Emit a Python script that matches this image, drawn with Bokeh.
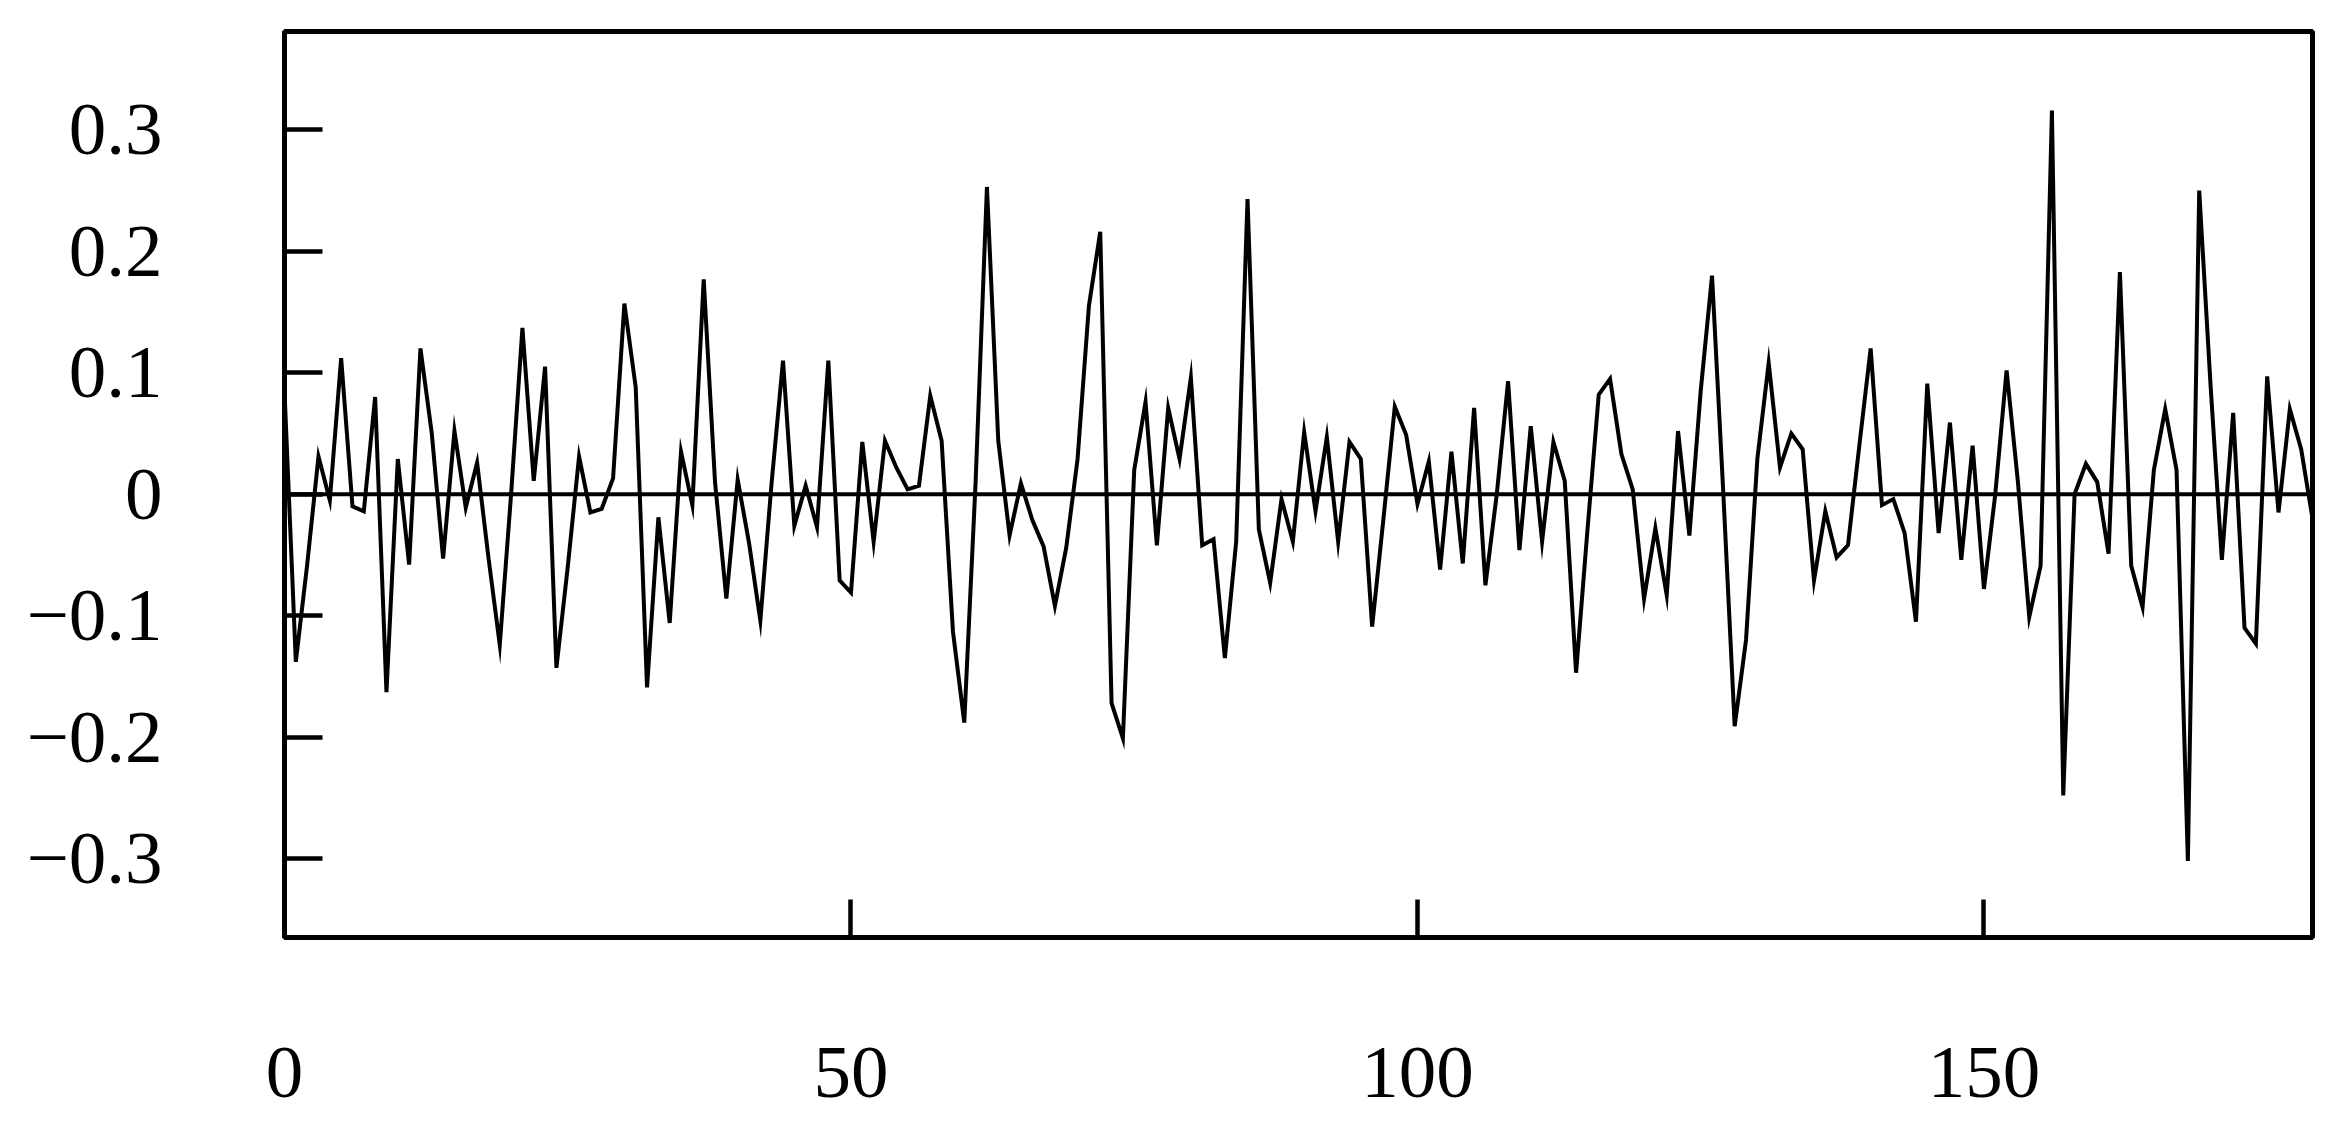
from bokeh.plotting import figure
from bokeh.models import Span, FixedTicker, CustomJSTickFormatter, Range1d
from bokeh.embed import file_html
from bokeh.resources import INLINE

# x positions 0..179
x_values = list(range(180))

y_values = [
    0.085, -0.138, -0.058, 0.031, -0.005, 0.112, -0.010, -0.014, 0.080, -0.163,
    0.029, -0.058, 0.120, 0.050, -0.053, 0.052, -0.011, 0.026, -0.052, -0.124,
    0.000, 0.137, 0.011, 0.105, -0.143, -0.060, 0.031, -0.015, -0.012, 0.013,
    0.157, 0.088, -0.159, -0.019, -0.106, 0.035, -0.009, 0.177, 0.010, -0.086,
    0.012, -0.040, -0.104, 0.010, 0.110, -0.026, 0.007, -0.027, 0.110, -0.071,
    -0.081, 0.043, -0.039, 0.044, 0.022, 0.004, 0.007, 0.081, 0.044, -0.113,
    -0.188, 0.010, 0.253, 0.044, -0.034, 0.009, -0.021, -0.043, -0.092, -0.044,
    0.029, 0.155, 0.216, -0.172, -0.201, 0.020, 0.076, -0.042, 0.071, 0.029,
    0.096, -0.042, -0.037, -0.135, -0.039, 0.243, -0.029, -0.073, -0.004, -0.039,
    0.051, -0.014, 0.047, -0.039, 0.043, 0.029, -0.109, -0.020, 0.072, 0.049,
    -0.008, 0.027, -0.062, 0.035, -0.057, 0.071, -0.075, 0.000, 0.093, -0.046,
    0.056, -0.039, 0.043, 0.011, -0.147, -0.030, 0.082, 0.095, 0.033, 0.004,
    -0.086, -0.028, -0.083, 0.052, -0.034, 0.085, 0.180, 0.000, -0.191, -0.120,
    0.029, 0.108, 0.022, 0.050, 0.037, -0.071, -0.014, -0.052, -0.042, 0.040,
    0.120, -0.009, -0.004, -0.032, -0.105, 0.091, -0.032, 0.059, -0.054, 0.040,
    -0.078, 0.000, 0.102, 0.010, -0.101, -0.059, 0.316, -0.248, 0.000, 0.025,
    0.010, -0.049, 0.183, -0.059, -0.093, 0.020, 0.070, 0.020, -0.302, 0.250,
    0.090, -0.054, 0.067, -0.110, -0.123, 0.097, -0.015, 0.070, 0.037, -0.020,
]

x_ticks = [0, 50, 100, 150]
y_ticks = [-0.3, -0.2, -0.1, 0, 0.1, 0.2, 0.3]

FONT = "Liberation Serif"

p = figure(
    width=2327, height=1112,
    output_backend="svg", toolbar_location=None,
    x_range=Range1d(0, 179), y_range=Range1d(-0.365, 0.381),
    min_border_left=284, min_border_right=15,
    min_border_top=31, min_border_bottom=175,
)
p.background_fill_color = "white"
p.border_fill_color = "white"
p.grid.visible = False
p.outline_line_color = "black"
p.outline_line_width = 5

p.add_layout(Span(location=0, dimension="width", line_color="black", line_width=4))
p.line(x_values, y_values, line_color="black", line_width=4, line_join="miter")

for ax in (p.xaxis[0], p.yaxis[0]):
    ax.axis_line_color = "black"
    ax.axis_line_width = 5
    ax.major_tick_in = 38
    ax.major_tick_out = 0
    ax.major_tick_line_width = 4.5
    ax.major_tick_line_color = "black"
    ax.minor_tick_line_color = None
    ax.major_label_text_font = FONT
    ax.major_label_text_font_size = "75px"
    ax.major_label_text_color = "black"

p.xaxis.ticker = FixedTicker(ticks=x_ticks)
p.yaxis.ticker = FixedTicker(ticks=y_ticks)
p.xaxis.major_label_standoff = 110
p.yaxis.major_label_standoff = 122
p.yaxis.formatter = CustomJSTickFormatter(code="""
    if (Math.abs(tick) < 1e-9) { return "0"; }
    const s = Math.abs(tick).toFixed(1);
    return tick < 0 ? "\\u2212" + s : s;
""")
p.xaxis.formatter = CustomJSTickFormatter(code="return Math.round(tick).toString();")

open("out.html", "w").write(file_html(p, INLINE))
